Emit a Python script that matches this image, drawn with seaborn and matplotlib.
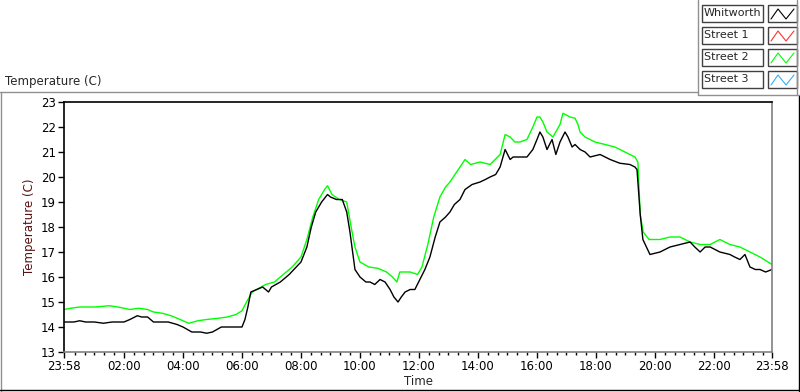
import numpy as np
import pandas as pd
import seaborn as sns
import matplotlib
matplotlib.use("Agg")
import matplotlib.pyplot as plt
from matplotlib.lines import Line2D
from matplotlib.patches import Rectangle
from matplotlib.ticker import FixedLocator

# ---------------- data (clock hours, start 23:58 of previous day) ----------------
whit_t = [-0.033, 0.3, 0.5, 0.7, 1.0, 1.3, 1.6, 2.0, 2.2, 2.45, 2.6, 2.8, 3.0, 3.5, 3.8, 4.0,
          4.3, 4.6, 4.8, 5.0, 5.3, 5.7, 6.0, 6.1, 6.2, 6.3, 6.5, 6.7, 6.9, 7.0, 7.3, 7.6, 8.0,
          8.2, 8.35, 8.5, 8.7, 8.9, 9.0, 9.2, 9.4, 9.55, 9.66, 9.83, 10.0, 10.2, 10.34, 10.5,
          10.68, 10.85, 11.02, 11.15, 11.29, 11.4, 11.53, 11.7, 11.86, 12.03, 12.2, 12.37,
          12.55, 12.71, 12.9, 13.05, 13.2, 13.39, 13.56, 13.8, 14.07, 14.25, 14.41, 14.6,
          14.75, 14.92, 15.09, 15.19, 15.42, 15.66, 15.86, 16.0, 16.10, 16.2, 16.34, 16.51,
          16.64, 16.78, 16.95, 17.05, 17.19, 17.29, 17.46, 17.63, 17.80, 18.14, 18.48, 18.81,
          19.15, 19.32, 19.39, 19.5, 19.59, 19.83, 20.17, 20.51, 20.85, 21.19, 21.35, 21.53,
          21.7, 21.87, 22.2, 22.54, 22.7, 22.88, 23.05, 23.22, 23.4, 23.56, 23.75, 23.967]
whit_v = [14.2, 14.2, 14.25, 14.2, 14.2, 14.15, 14.2, 14.2, 14.3, 14.45, 14.4, 14.4, 14.2, 14.2,
          14.1, 14.0, 13.8, 13.8, 13.75, 13.8, 14.0, 14.0, 14.0, 14.3, 14.8, 15.4, 15.5, 15.6,
          15.4, 15.6, 15.8, 16.1, 16.6, 17.2, 18.0, 18.6, 19.0, 19.3, 19.2, 19.1, 19.1, 18.6,
          17.8, 16.3, 16.0, 15.8, 15.8, 15.7, 15.9, 15.8, 15.5, 15.2, 15.0, 15.2, 15.4, 15.5,
          15.5, 15.9, 16.3, 16.8, 17.6, 18.2, 18.4, 18.6, 18.9, 19.1, 19.5, 19.7, 19.8, 19.9,
          20.0, 20.1, 20.4, 21.1, 20.7, 20.8, 20.8, 20.8, 21.1, 21.5, 21.8, 21.6, 21.1, 21.5,
          20.9, 21.4, 21.8, 21.6, 21.2, 21.3, 21.1, 21.0, 20.8, 20.9, 20.7, 20.55, 20.5, 20.4,
          20.3, 18.5, 17.5, 16.9, 17.0, 17.2, 17.3, 17.4, 17.2, 17.0, 17.2, 17.2, 17.0, 16.9,
          16.8, 16.7, 16.9, 16.4, 16.3, 16.3, 16.2, 16.3]

st2_t = [-0.033, 0.2, 0.5, 1.0, 1.5, 1.8, 2.0, 2.2, 2.5, 2.8, 3.0, 3.3, 3.6, 3.9, 4.2, 4.5,
         4.8, 5.2, 5.5, 5.8, 6.0, 6.2, 6.35, 6.5, 6.8, 7.1, 7.4, 7.7, 8.0, 8.2, 8.4, 8.6, 8.8,
         8.9, 9.05, 9.3, 9.55, 9.7, 9.83, 10.0, 10.3, 10.6, 10.9, 11.1, 11.25, 11.35, 11.7,
         11.95, 12.1, 12.3, 12.5, 12.71, 12.9, 13.05, 13.39, 13.56, 13.75, 14.07, 14.41,
         14.75, 14.92, 15.09, 15.25, 15.42, 15.66, 15.86, 16.0, 16.10, 16.2, 16.34, 16.54,
         16.78, 16.88, 17.12, 17.29, 17.39, 17.46, 17.63, 17.97, 18.31, 18.64, 18.98, 19.32,
         19.42, 19.5, 19.6, 19.8, 20.17, 20.51, 20.85, 21.19, 21.53, 21.87, 22.2, 22.54,
         22.88, 23.22, 23.56, 23.967]
st2_v = [14.7, 14.75, 14.8, 14.8, 14.85, 14.8, 14.75, 14.7, 14.75, 14.7, 14.6, 14.55, 14.45,
         14.3, 14.15, 14.25, 14.3, 14.35, 14.4, 14.5, 14.65, 15.1, 15.4, 15.5, 15.7, 15.8, 16.1,
         16.4, 16.8, 17.5, 18.4, 19.1, 19.5, 19.65, 19.3, 19.1, 19.0, 18.0, 17.2, 16.6, 16.4,
         16.35, 16.2, 16.0, 15.8, 16.2, 16.2, 16.1, 16.4, 17.3, 18.4, 19.2, 19.6, 19.8, 20.4,
         20.7, 20.5, 20.6, 20.5, 20.9, 21.7, 21.6, 21.4, 21.4, 21.5, 22.0, 22.4, 22.4, 22.2,
         21.8, 21.6, 22.1, 22.55, 22.4, 22.35, 22.1, 21.8, 21.6, 21.4, 21.3, 21.2, 21.0, 20.8,
         20.6, 18.5, 17.8, 17.5, 17.5, 17.6, 17.6, 17.4, 17.3, 17.3, 17.5, 17.3, 17.2, 17.0,
         16.8, 16.5]

series_names = ["Whitworth", "Street 1", "Street 2", "Street 3"]
series_colors = ["#000000", "#ff3030", "#00ff00", "#30b0ff"]

x_ticks = [-2 / 60, 2, 4, 6, 8, 10, 12, 14, 16, 18, 20, 22, 24 - 2 / 60]
x_labels = ["23:58", "02:00", "04:00", "06:00", "08:00", "10:00", "12:00", "14:00",
            "16:00", "18:00", "20:00", "22:00", "23:58"]
y_ticks = [13, 14, 15, 16, 17, 18, 19, 20, 21, 22, 23]

df = pd.concat([
    pd.DataFrame({"t": whit_t, "v": whit_v, "s": "Whitworth"}),
    pd.DataFrame({"t": st2_t, "v": st2_v, "s": "Street 2"}),
])

# ---------------- figure ----------------
sns.set_style("white")
plt.rcParams["font.family"] = ["DejaVu Sans"]
fig = plt.figure(figsize=(8, 3.92), dpi=100)
W, H = 800, 392
ax = fig.add_axes([64 / W, 1 - 352 / H, (772 - 64) / W, (352 - 102) / H])

sns.lineplot(data=df[df.s == "Street 2"], x="t", y="v", ax=ax, color="#00ff00",
             lw=1.0, legend=False)
sns.lineplot(data=df[df.s == "Whitworth"], x="t", y="v", ax=ax, color="#000000",
             lw=1.0, legend=False)

ax.set_xlim(x_ticks[0], x_ticks[-1])
ax.set_ylim(13, 23)
ax.xaxis.set_major_locator(FixedLocator(x_ticks))
ax.set_xticklabels(x_labels)
ax.xaxis.set_minor_locator(FixedLocator(np.arange(1 / 3, 24, 1 / 3)))
ax.yaxis.set_major_locator(FixedLocator(y_ticks))
ax.tick_params(axis="both", which="major", direction="out", length=4, width=1,
               colors="black", labelsize=8.5, pad=2)
ax.tick_params(axis="x", which="minor", direction="out", length=2.5, width=1, colors="black")
ax.tick_params(axis="x", which="both", bottom=True)
ax.tick_params(axis="y", which="both", left=True)
ax.set_xlabel("Time", fontsize=8.5, labelpad=1)
ax.set_ylabel("Temperature (C)", fontsize=8.5, color="#5a1010", labelpad=3)
for side, col in [("left", "black"), ("top", "black"), ("right", "#808080"), ("bottom", "#808080")]:
    ax.spines[side].set_visible(True)
    ax.spines[side].set_color(col)
    ax.spines[side].set_linewidth(1.2)

# ---------------- panel frame ----------------
def px(x, y):
    return x / W, 1 - y / H

def fline(xs, ys, color, lw=1.0):
    fig.add_artist(Line2D([x / W for x in xs], [1 - y / H for y in ys],
                          color=color, lw=lw, transform=fig.transFigure))

fline([0, 698], [92, 92], "#909090")
fline([1, 1], [92, 391], "#909090")
fline([0, 799], [390, 390], "#000000")
fline([799, 799], [95, 391], "#000000")
fline([698, 698], [0, 95], "#909090")
fline([698, 799], [95, 95], "#909090")
fline([797, 797], [0, 95], "#909090")

fig.text(5 / W, 1 - 82 / H, "Temperature (C)", fontsize=8.5, va="center", ha="left")

# ---------------- legend ----------------
for i, (name, col) in enumerate(zip(series_names, series_colors)):
    y0 = 5 + i * 22
    fig.add_artist(Rectangle(px(702, y0 + 17), 61 / W, 17 / H, transform=fig.transFigure,
                             fill=True, facecolor="white", edgecolor="#404040", lw=1))
    fig.text(704 / W, 1 - (y0 + 8.5) / H, name, fontsize=8, va="center", ha="left")
    fig.add_artist(Rectangle(px(768, y0 + 17), 29 / W, 17 / H, transform=fig.transFigure,
                             fill=True, facecolor="white", edgecolor="#404040", lw=1))
    zx = [771, 778, 786, 794]
    zy = [y0 + 14, y0 + 4, y0 + 14, y0 + 4]
    fline(zx, zy, col, 0.8)

fig.savefig("out.png", dpi=100)
